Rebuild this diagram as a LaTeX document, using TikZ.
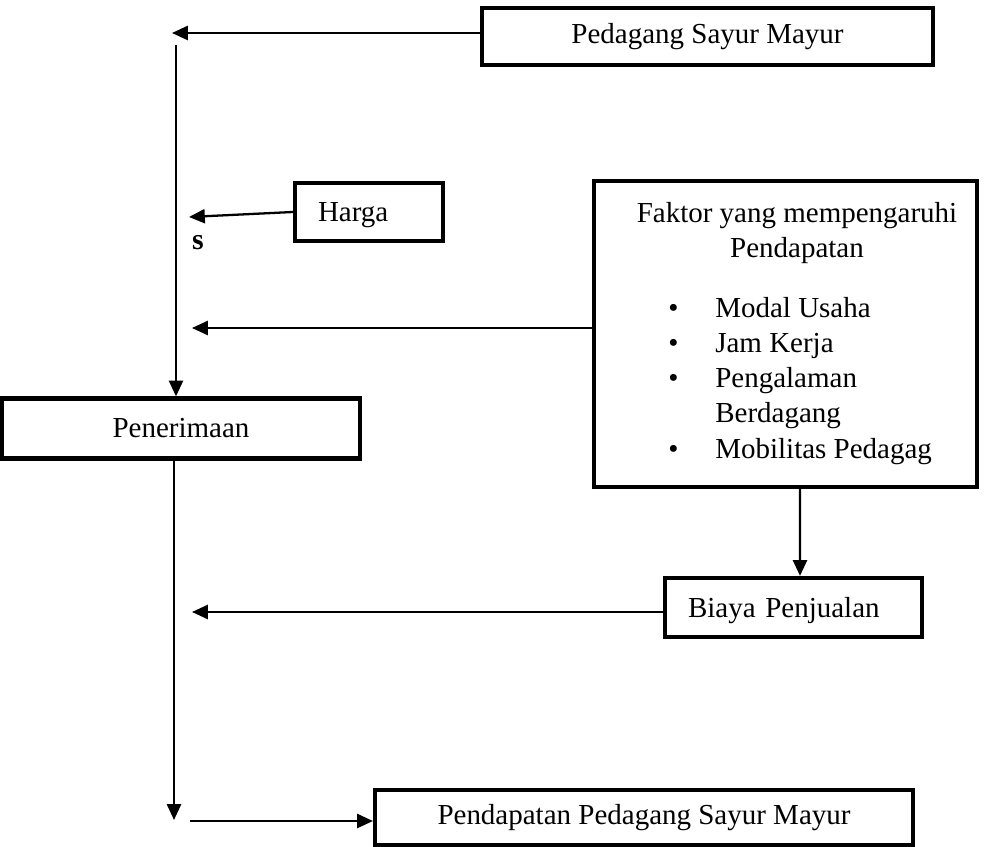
\documentclass[tikz,border=0pt]{standalone}
\usepackage{fontspec}
\setmainfont{Liberation Serif}
\usepackage{tikz}
\usetikzlibrary{arrows.meta, positioning, calc}

\begin{document}
\begin{tikzpicture}[
    x=0.02cm, y=-0.02cm,
    every node/.style={font=\fontsize{16.5}{20}\selectfont},
    box/.style={rectangle, draw, line width=2.4pt, inner sep=0pt, text centered},
    txt/.style={inner sep=0pt},
    arrow/.style={-{Triangle[length=9pt, width=8pt]}, line width=1.3pt}
]
\useasboundingbox (0,0) rectangle (990,847);

% Boxes
\node[box, minimum width=9.02cm, minimum height=1.14cm] (pedagang) at (707.5,36.5) {Pedagang Sayur Mayur};
\node[box, minimum height=1.16cm, text width=2.04cm, text depth=0pt, inner xsep=0.46cm, align=left] (harga) at (369,212) {Harga};
\node[box, minimum width=7.66cm, minimum height=6.12cm] (faktor) at (785.5,334) {};
\node[box, minimum width=7.16cm, minimum height=1.2cm] (penerimaan) at (181,428.5) {Penerimaan};
\node[box, minimum height=1.18cm, text width=4.22cm, text depth=0pt, inner xsep=0.46cm, align=left] (biaya) at (793.5,607.5) {Biaya Penjualan};
\node[box, minimum width=10.76cm, minimum height=1.1cm] (pendapatan) at (644,817.5) {Pendapatan Pedagang Sayur Mayur};

% Faktor contents
\node[txt, anchor=north, align=center] (faktorjudul) at (797,202) {Faktor yang mempengaruhi\\Pendapatan};
\node[txt, anchor=north west, align=left] (faktorlist) at (668,297) {%
\makebox[0.94cm][l]{\textbullet}Modal Usaha\\
\makebox[0.94cm][l]{\textbullet}Jam Kerja\\
\makebox[0.94cm][l]{\textbullet}Pengalaman\\
\makebox[0.94cm][l]{}Berdagang\\
\makebox[0.94cm][l]{\textbullet}Mobilitas Pedagag};

\node[txt, anchor=base, font=\fontsize{17}{20}\selectfont\bfseries] (s) at (198,250) {s};

% Arrow ends
\coordinate (atas) at (172,33);
\coordinate (kolom) at (176,45);
\coordinate (hargaujung) at (189,217);
\coordinate (faktorujung) at (192,328);
\coordinate (biayaujung) at (192,612);
\coordinate (bawah) at (174,820);
\coordinate (bawahawal) at (190,821);

% Arrows
\draw[arrow] (pedagang.west |- atas) -- (atas);
\draw[arrow] (kolom) -- (kolom |- penerimaan.north);
\draw[arrow] (harga.west) -- (hargaujung);
\draw[arrow] (faktor.west |- faktorujung) -- (faktorujung);
\draw[arrow] ([xshift=0.29cm]faktor.south) -- ([xshift=0.13cm]biaya.north);
\draw[arrow] (biaya.west |- biayaujung) -- (biayaujung);
\draw[arrow] (penerimaan.south -| bawah) -- (bawah);
\draw[arrow] (bawahawal) -- (pendapatan.west |- bawahawal);

\end{tikzpicture}
\end{document}
